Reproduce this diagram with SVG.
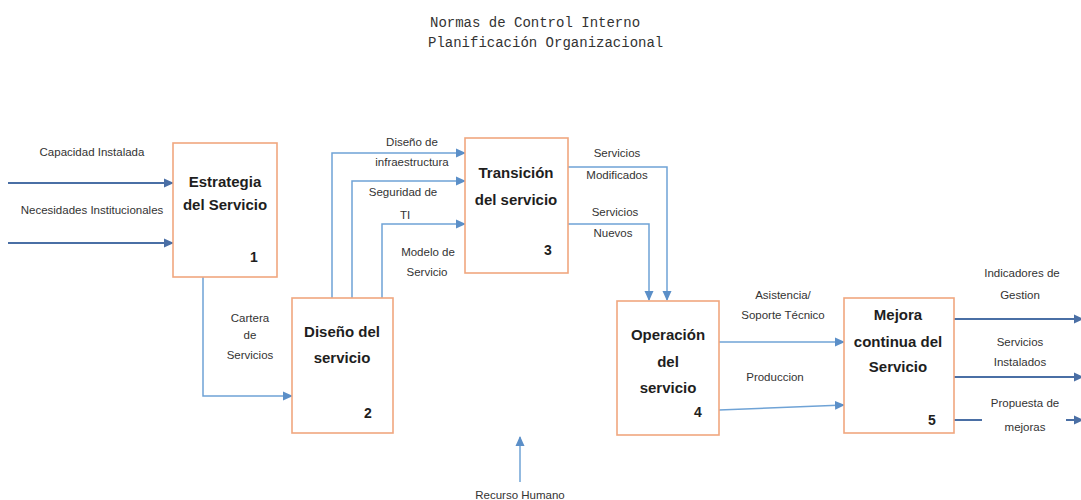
<svg xmlns="http://www.w3.org/2000/svg" width="1081" height="500" viewBox="0 0 1081 500">
<style>
.box{fill:#ffffff;stroke:#f0a77f;stroke-width:1.6}
.t{font-family:"Liberation Sans",Arial,sans-serif;font-size:15px;font-weight:bold;fill:#1e1e1e;text-anchor:middle}
.n{font-family:"Liberation Sans",Arial,sans-serif;font-size:14px;font-weight:bold;fill:#1e1e1e;text-anchor:middle}
.l{font-family:"Liberation Sans",Arial,sans-serif;font-size:11.5px;fill:#333;text-anchor:middle}
.title{font-family:"Liberation Mono","Courier New",monospace;font-size:14px;fill:#333}
.c{fill:none;stroke:#6fa3d6;stroke-width:1.5}
.d{fill:none;stroke:#4a6fa5;stroke-width:2}
</style>
<defs>
<marker id="ah" markerWidth="10" markerHeight="10" refX="9" refY="5" orient="auto" markerUnits="userSpaceOnUse">
<path d="M0,0.5 L10,5 L0,9.5 Z" fill="#5b8fc8"/>
</marker>
<marker id="ahd" markerWidth="10" markerHeight="10" refX="9" refY="5" orient="auto" markerUnits="userSpaceOnUse">
<path d="M0,0.5 L10,5 L0,9.5 Z" fill="#4a6fa5"/>
</marker>
</defs>
<rect width="1081" height="500" fill="#ffffff"/>
<g id="title">
<text class="title" x="430" y="27">Normas de Control Interno</text>
<text class="title" x="428" y="47">Planificación Organizacional</text>
</g>
<g id="connectors">
<path class="d" d="M8,183 L173,183" marker-end="url(#ahd)"/>
<path class="d" d="M8,243 L173,243" marker-end="url(#ahd)"/>
<path class="c" d="M203,277 L203,396 L292,396" marker-end="url(#ah)"/>
<path class="c" d="M332,298 L332,153 L465,153" marker-end="url(#ah)"/>
<path class="c" d="M352,298 L352,181 L465,181" marker-end="url(#ah)"/>
<path class="c" d="M382,298 L382,224 L465,224" marker-end="url(#ah)"/>
<path class="c" d="M568,167 L667,167 L667,300" marker-end="url(#ah)"/>
<path class="c" d="M568,224 L649,224 L649,300" marker-end="url(#ah)"/>
<path class="c" d="M719,342 L844,342" marker-end="url(#ah)"/>
<path class="c" d="M719,410 L844,405" marker-end="url(#ah)"/>
<path class="d" d="M954,319 L1083,319" marker-end="url(#ahd)"/>
<path class="d" d="M954,377 L1083,377" marker-end="url(#ahd)"/>
<path class="d" d="M954,420 L982,420"/>
<path class="d" d="M1066,420 L1083,420" marker-end="url(#ahd)"/>
<path class="c" d="M520,482 L520,437" marker-end="url(#ah)"/>
</g>
<g id="labels">
<text class="l" x="92" y="156">Capacidad Instalada</text>
<text class="l" x="92" y="214">Necesidades Institucionales</text>
<text class="l" x="250" y="322">Cartera</text>
<text class="l" x="250" y="339">de</text>
<text class="l" x="250" y="359">Servicios</text>
<text class="l" x="412" y="146">Diseño de</text>
<text class="l" x="412" y="166">infraestructura</text>
<text class="l" x="403" y="196">Seguridad de</text>
<text class="l" x="405" y="219">TI</text>
<text class="l" x="428" y="256">Modelo de</text>
<text class="l" x="427" y="276">Servicio</text>
<text class="l" x="617" y="157">Servicios</text>
<text class="l" x="617" y="179">Modificados</text>
<text class="l" x="615" y="216">Servicios</text>
<text class="l" x="613" y="237">Nuevos</text>
<text class="l" x="783" y="299">Asistencia/</text>
<text class="l" x="783" y="319">Soporte Técnico</text>
<text class="l" x="775" y="381">Produccion</text>
<text class="l" x="1022" y="277">Indicadores de</text>
<text class="l" x="1020" y="299">Gestion</text>
<text class="l" x="1020" y="346">Servicios</text>
<text class="l" x="1020" y="366">Instalados</text>
<text class="l" x="1025" y="407">Propuesta de</text>
<text class="l" x="1025" y="431">mejoras</text>
<text class="l" x="520" y="499">Recurso Humano</text>
</g>
<g id="node1">
<rect class="box" x="173" y="143" width="104" height="134"/>
<text class="t" x="225" y="187">Estrategia</text>
<text class="t" x="225" y="210">del Servicio</text>
<text class="n" x="254" y="262">1</text>
</g>
<g id="node2">
<rect class="box" x="292" y="298" width="101" height="135"/>
<text class="t" x="342" y="337">Diseño del</text>
<text class="t" x="342" y="363">servicio</text>
<text class="n" x="368" y="418">2</text>
</g>
<g id="node3">
<rect class="box" x="465" y="138" width="103" height="135"/>
<text class="t" x="516" y="178">Transición</text>
<text class="t" x="516" y="205">del servicio</text>
<text class="n" x="548" y="255">3</text>
</g>
<g id="node4">
<rect class="box" x="617" y="301" width="102" height="134"/>
<text class="t" x="668" y="340">Operación</text>
<text class="t" x="668" y="367">del</text>
<text class="t" x="668" y="393">servicio</text>
<text class="n" x="698" y="417">4</text>
</g>
<g id="node5">
<rect class="box" x="844" y="298" width="110" height="135"/>
<text class="t" x="898" y="320">Mejora</text>
<text class="t" x="898" y="347">continua del</text>
<text class="t" x="898" y="372">Servicio</text>
<text class="n" x="932" y="425">5</text>
</g>
</svg>
